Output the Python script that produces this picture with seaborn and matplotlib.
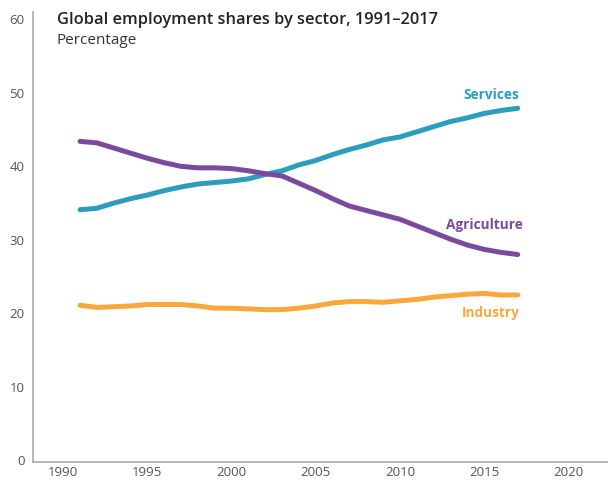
import pandas as pd
import numpy as np
import matplotlib
matplotlib.use('Agg')
import matplotlib.pyplot as plt
import seaborn as sns

# data (global employment shares, %)
years = list(range(1991, 2018))
services = [34.1, 34.3, 35.0, 35.6, 36.1, 36.7, 37.2, 37.6, 37.8, 38.0,
            38.3, 38.9, 39.4, 40.2, 40.8, 41.6, 42.3, 42.9, 43.6, 44.0,
            44.7, 45.4, 46.1, 46.6, 47.2, 47.6, 47.9]
agriculture = [43.4, 43.2, 42.5, 41.8, 41.1, 40.5, 40.0, 39.8, 39.8, 39.7,
               39.4, 39.0, 38.7, 37.7, 36.7, 35.6, 34.6, 34.0, 33.4, 32.8,
               31.9, 31.0, 30.1, 29.3, 28.7, 28.3, 28.0]
industry = [21.1, 20.8, 20.9, 21.0, 21.2, 21.2, 21.2, 21.0, 20.7, 20.7,
            20.6, 20.5, 20.5, 20.7, 21.0, 21.4, 21.6, 21.6, 21.5, 21.7,
            21.9, 22.2, 22.4, 22.6, 22.7, 22.5, 22.5]
sectors = ['Services', 'Agriculture', 'Industry']
colors = {'Services': '#2c9cbf', 'Agriculture': '#7a4a9e', 'Industry': '#f9a93b'}
x_ticks = [1990, 1995, 2000, 2005, 2010, 2015, 2020]
y_ticks = [0, 10, 20, 30, 40, 50, 60]

df = pd.DataFrame({'Year': years * 3,
                   'Share': services + agriculture + industry,
                   'Sector': sum([[s] * len(years) for s in sectors], [])})

sns.set_style('white')
plt.rcParams['font.family'] = ['Open Sans', 'DejaVu Sans']

fig = plt.figure(figsize=(6.1, 4.82), dpi=100)
ax = fig.add_axes([0.054, 0.042, 0.941, 0.933])

sns.lineplot(data=df, x='Year', y='Share', hue='Sector', palette=colors,
             linewidth=3.6, legend=False, ax=ax)

ax.set_xlim(1988.2, 2022.3)
ax.set_ylim(-0.2, 61)
ax.set_xticks(x_ticks)
ax.set_yticks(y_ticks)
ax.set_xlabel('')
ax.set_ylabel('')
ax.tick_params(axis='y', length=0, labelsize=9.5, labelcolor='#555555', pad=6)
ax.tick_params(axis='x', length=0, labelsize=9.5, labelcolor='#555555', pad=3)
sns.despine(ax=ax)
for sp in ['left', 'bottom']:
    ax.spines[sp].set_color('#aaaaaa')
    ax.spines[sp].set_linewidth(1.2)

# direct labels at line ends
ax.text(2017.1, 49.7, 'Services', color=colors['Services'], ha='right',
        va='center', fontsize=9.8, fontweight='bold')
ax.text(2017.3, 32.0, 'Agriculture', color=colors['Agriculture'], ha='right',
        va='center', fontsize=9.8, fontweight='bold')
ax.text(2017.1, 20.0, 'Industry', color=colors['Industry'], ha='right',
        va='center', fontsize=9.8, fontweight='bold')

fig.text(0.093, 0.958, 'Global employment shares by sector, 1991\u20132017',
         fontsize=11.8, fontweight='semibold', color='#222222', va='center')
fig.text(0.093, 0.915, 'Percentage', fontsize=11, color='#333333', va='center')

fig.savefig('out.png', dpi=100)
